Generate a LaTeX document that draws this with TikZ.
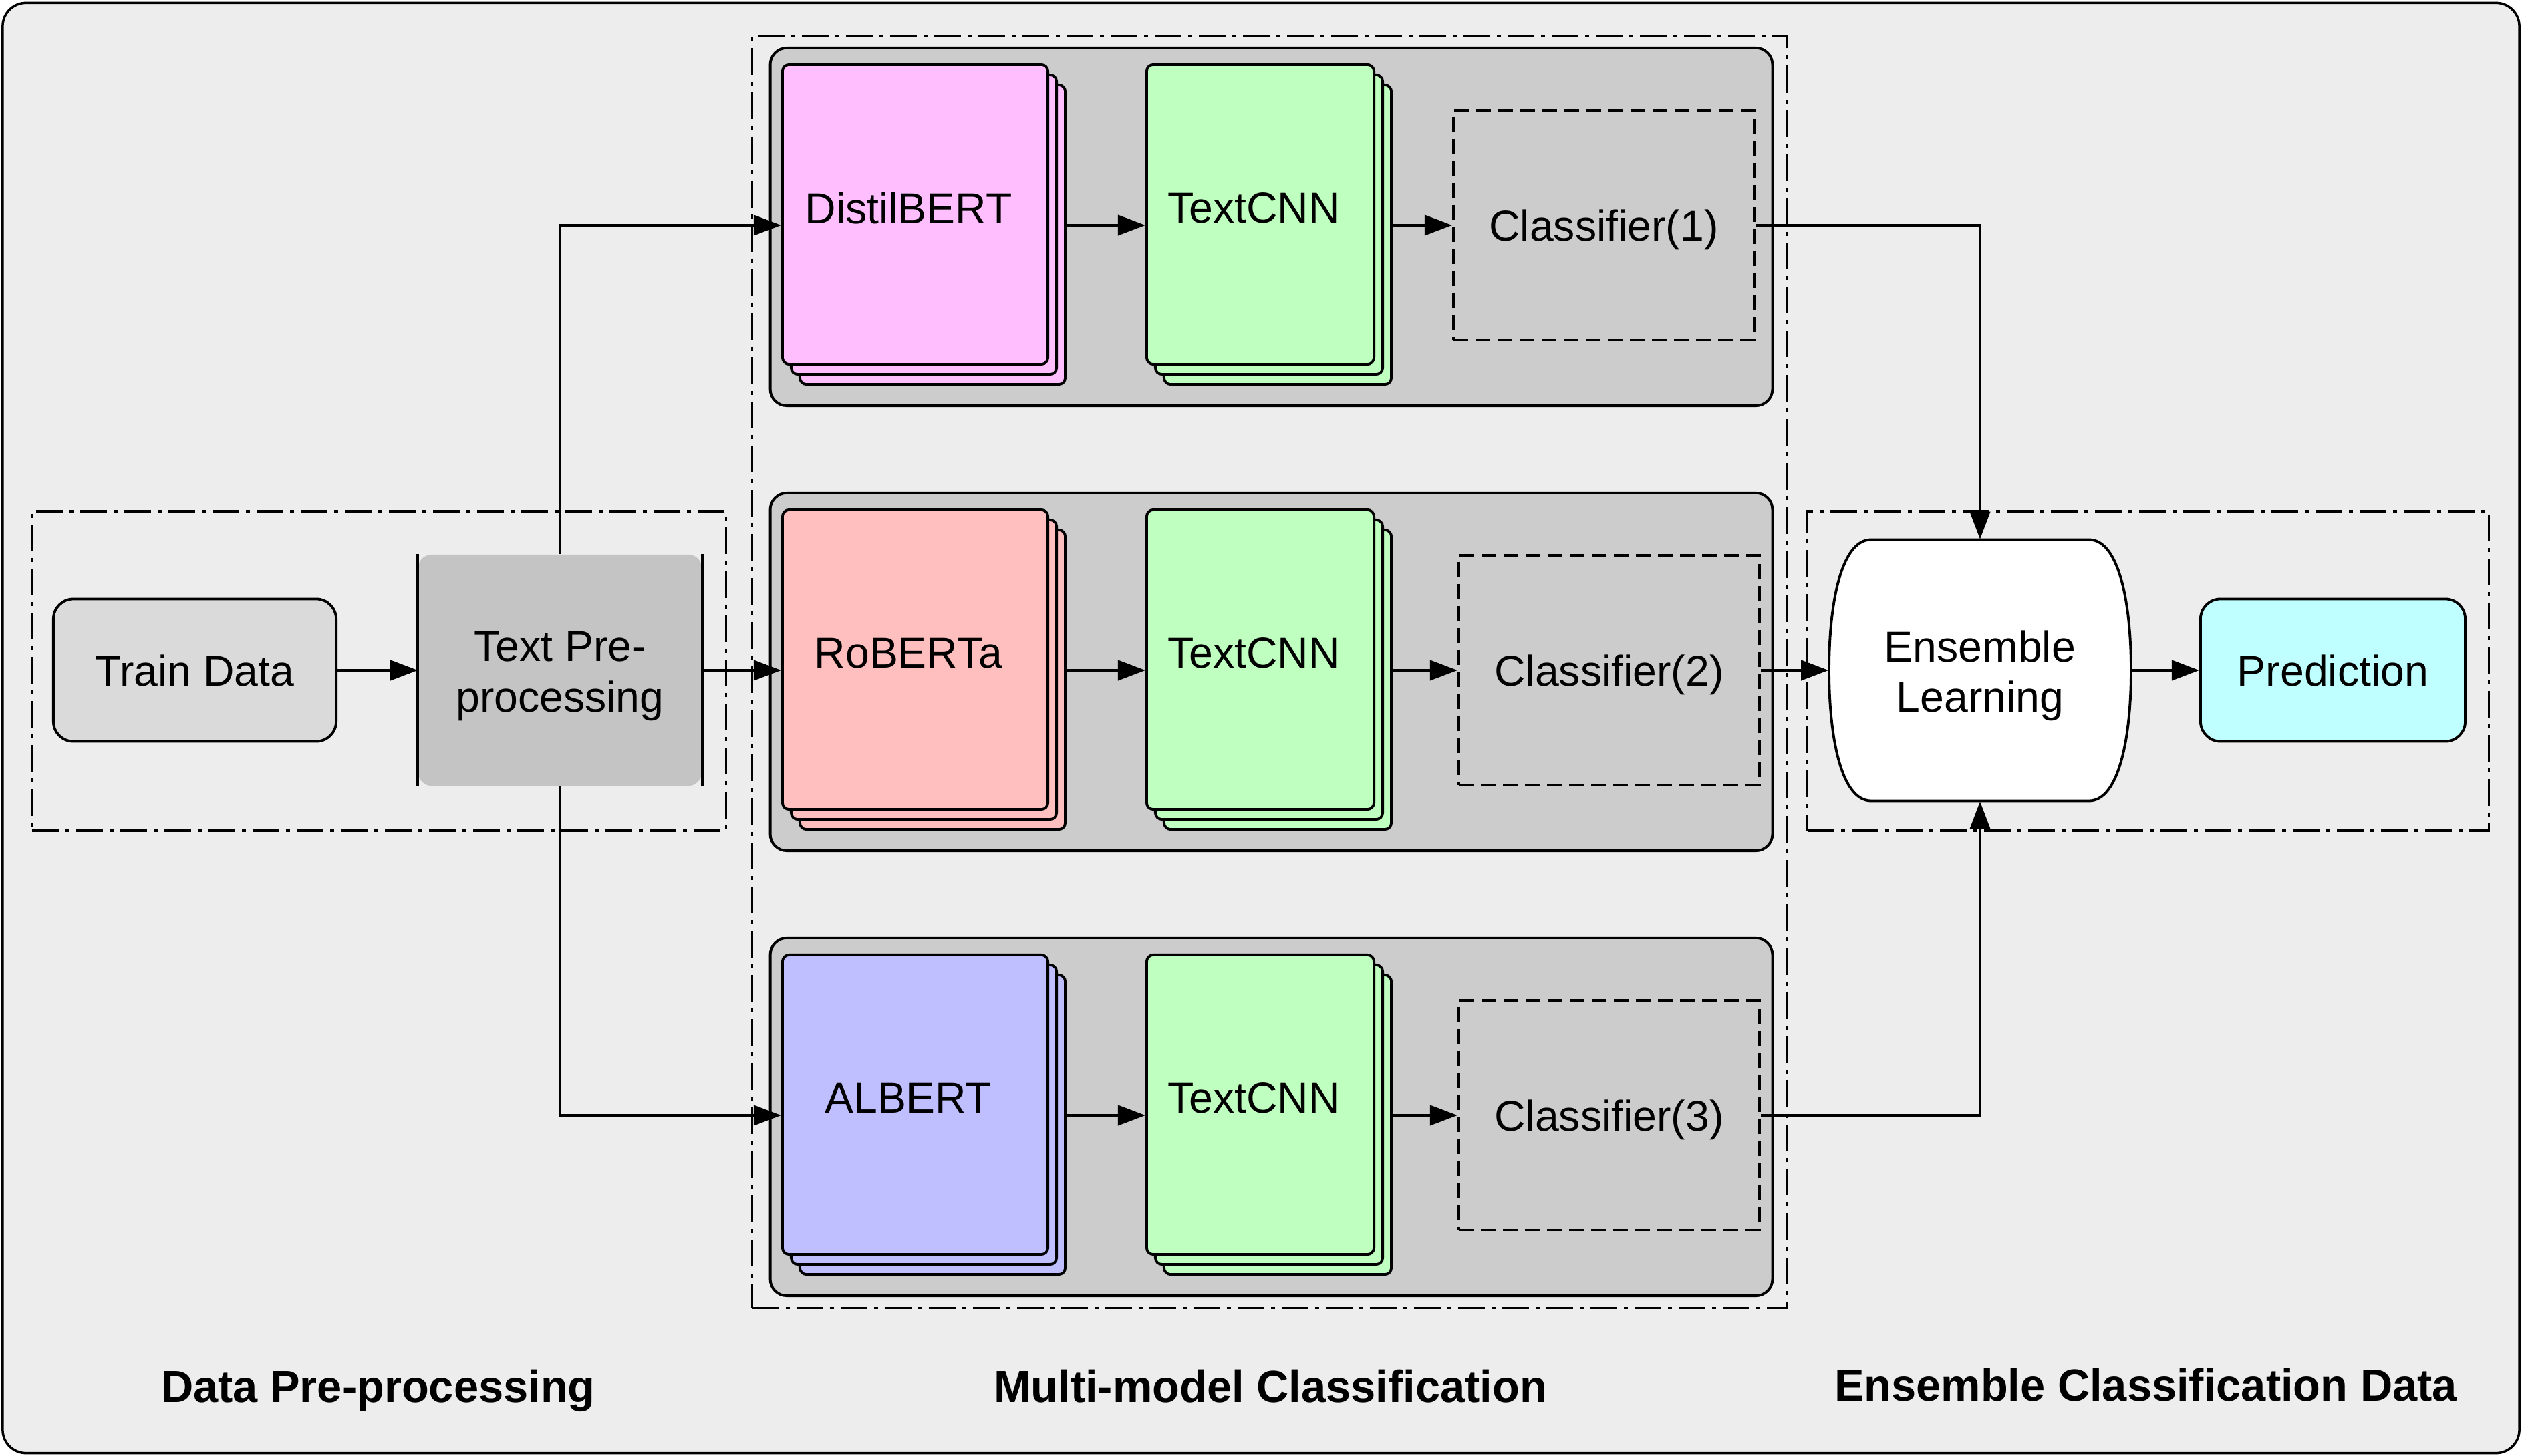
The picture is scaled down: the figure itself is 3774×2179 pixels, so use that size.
\documentclass[tikz,border=0pt]{standalone}
\usepackage{fontspec}
\setmainfont{Liberation Sans}
\usetikzlibrary{arrows.meta,shadows}

\definecolor{framegray}{HTML}{EDEDED}
\definecolor{rowgray}{HTML}{CCCCCC}
\definecolor{traingray}{HTML}{DADADA}
\definecolor{pregray}{HTML}{C4C4C4}
\definecolor{bertpink}{HTML}{FFBFFF}
\definecolor{robred}{HTML}{FFBFBF}
\definecolor{albblue}{HTML}{BFBFFF}
\definecolor{cnngreen}{HTML}{BFFFBF}
\definecolor{predcyan}{HTML}{BFFFFF}

\tikzset{
  frame/.style={draw, line width=1pt, fill=framegray, rounded corners=3.5mm, minimum width=37.64cm, minimum height=21.69cm},
  group/.style={draw, line width=1pt, dash pattern=on 4mm off 1mm on 0.6mm off 1mm},
  rowbox/.style={draw, line width=1.1pt, fill=rowgray, rounded corners=2.5mm, minimum width=14.99cm, minimum height=5.35cm},
  card/.style={draw, line width=1.1pt, rounded corners=1mm, fill=#1, minimum height=4.48cm, text depth=2mm,
    execute at end node=\hspace*{2mm},
    double copy shadow={shadow xshift=1.3mm, shadow yshift=-1.5mm, fill=#1, draw=black, line width=1.1pt}},
  cls/.style={draw, line width=1.1pt, dash pattern=on 2.2mm off 1.1mm, minimum width=4.5cm, minimum height=3.44cm, text depth=0pt},
  roundbox/.style={draw, line width=1.1pt, rounded corners=3mm, minimum width=4.23cm, minimum height=2.13cm},
  prebox/.style={fill=pregray, rounded corners=2mm, minimum width=4.24cm, minimum height=3.46cm, align=center, text height=1.38cm},
  preline/.style={line width=1pt},
  drum/.style={draw, line width=1.1pt, fill=white},
  arr/.style={line width=1.1pt, -{Triangle[length=4.1mm,width=3mm]}},
  caption/.style={font=\fontsize{19}{23}\selectfont\bfseries}
}

\begin{document}
\begin{tikzpicture}[x=0.01cm,y=-0.01cm,font=\fontsize{18.3}{21.5}\selectfont]
  \useasboundingbox (0,0) rectangle (3774,2179);
  % outer frame and dash-dot groups
  \node[frame] (frame) at (1887,1089.5) {};
  \node[group, minimum width=10.38cm, minimum height=4.78cm] (prepgroup) at (567,1004) {};
  \node[group, minimum width=15.48cm, minimum height=19.02cm] (multigroup) at (1900,1006) {};
  \node[group, minimum width=10.19cm, minimum height=4.78cm] (ensgroup) at (3214.5,1004) {};
  % three model rows
  \foreach \i/\enc/\col in {0/DistilBERT/bertpink,1/RoBERTa/robred,2/ALBERT/albblue}{
    \node[rowbox] (row\i) at (1902.5,{339.5+666*\i}) {};
    \node[card=\col, minimum width=3.97cm] (enc\i) at (1369.5,{321+666*\i}) {\enc};
    \node[card=cnngreen, minimum width=3.40cm] (cnn\i) at (1886,{321+666*\i}) {TextCNN};
    \draw[arr] ([shift={(2.6mm,-1.6mm)}]enc\i.east) -- ([yshift=-1.6mm]cnn\i.west);
  }
  \node[cls] (cls0) at (2400,337) {Classifier(1)};
  \node[cls] (cls1) at (2408,1003) {Classifier(2)};
  \node[cls] (cls2) at (2408,1669) {Classifier(3)};
  \foreach \i in {0,1,2}
    \draw[arr] ([shift={(2.6mm,-1.6mm)}]cnn\i.east) -- (cls\i.west);
  % data pre-processing
  \node[roundbox, fill=traingray] (train) at (291.5,1003) {Train Data};
  \node[prebox] (pre) at (838,1003) {Text Pre-\\processing};
  \draw[preline] (pre.north west) -- (pre.south west);
  \draw[preline] (pre.north east) -- (pre.south east);
  % ensemble
  \draw[drum] (2800,807.5) -- (3126,807.5) .. controls +(45,0) and +(0,-100) .. (3189,1003)
    .. controls +(0,100) and +(45,0) .. (3126,1198.5) -- (2800,1198.5)
    .. controls +(-45,0) and +(0,100) .. (2737,1003) .. controls +(0,-100) and +(-45,0) .. cycle;
  \node[align=center, text height=1.39cm, minimum width=4.52cm, minimum height=3.91cm] (ens) at (2963,1003) {Ensemble\\Learning};
  \node[roundbox, fill=predcyan, minimum width=3.96cm] (pred) at (3491,1003) {Prediction};
  % connectors
  \draw[arr] (train) -- (pre);
  \draw[arr] (pre.north) |- ([yshift=-1.6mm]enc0.west);
  \draw[arr] (pre.east) -- ([yshift=-1.6mm]enc1.west);
  \draw[arr] (pre.south) |- ([yshift=-1.6mm]enc2.west);
  \draw[arr] (cls0.east) -| (ens.north);
  \draw[arr] (cls1.east) -- (ens.west);
  \draw[arr] (cls2.east) -| (ens.south);
  \draw[arr] (ens) -- (pred);
  % captions
  \node[caption, anchor=base] (capprep) at (566,2098) {Data Pre-processing};
  \node[caption, anchor=base] (capmulti) at (1901,2098) {Multi-model Classification};
  \node[caption, anchor=base] (capens) at (3211,2096) {Ensemble Classification Data};
\end{tikzpicture}
\end{document}
